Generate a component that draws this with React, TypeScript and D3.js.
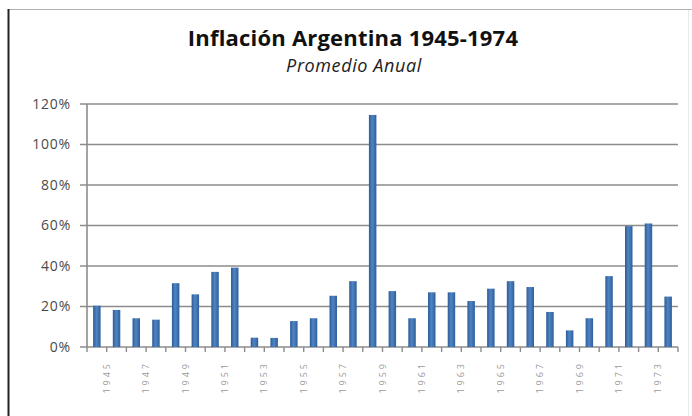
import * as d3 from 'd3'

const W = 692
const H = 416
const MARGIN = { top: 104, right: 14, bottom: 69, left: 87 }

const TITLE = 'Inflación Argentina 1945-1974'
const SUBTITLE = 'Promedio Anual'

const YEARS = [
  '1945', '1946', '1947', '1948', '1949', '1950', '1951', '1952', '1953', '1954',
  '1955', '1956', '1957', '1958', '1959', '1960', '1961', '1962', '1963', '1964',
  '1965', '1966', '1967', '1968', '1969', '1970', '1971', '1972', '1973', '1974',
]
const INFLATION = [
  0.204, 0.183, 0.142, 0.135, 0.315, 0.26, 0.371, 0.392, 0.046, 0.045,
  0.128, 0.142, 0.253, 0.325, 1.146, 0.276, 0.142, 0.27, 0.27, 0.227,
  0.288, 0.325, 0.296, 0.173, 0.082, 0.142, 0.35, 0.597, 0.61, 0.249,
]
const Y_TICKS = [0, 0.2, 0.4, 0.6, 0.8, 1.0, 1.2]

const GRID = '#8c8c8c'
const AXIS_TEXT = '#4a4a4a'
const FONT = "'Open Sans', 'Liberation Sans', sans-serif"

export default function App() {
  const x = d3
    .scaleBand<string>()
    .domain(YEARS)
    .range([MARGIN.left, W - MARGIN.right])
    .paddingInner(0.62)
    .paddingOuter(0.31)
  const y = d3.scaleLinear().domain([0, 1.2]).range([H - MARGIN.bottom, MARGIN.top])
  const step = x.step()
  const boundary = (i: number) => MARGIN.left + i * step
  const fmt = d3.format('.0%')
  const y0 = y(0)

  return (
    <svg
      width={W}
      height={H}
      style={{ position: 'absolute', left: 0, top: 0, background: '#fff' }}
    >
      <defs>
        <linearGradient id="bar" x1="0" x2="1" y1="0" y2="0">
          <stop offset="0" stopColor="#2d5c96" />
          <stop offset="0.45" stopColor="#4f84c4" />
          <stop offset="1" stopColor="#2f5f9a" />
        </linearGradient>
      </defs>

      {/* chart frame */}
      <line x1={8} x2={W} y1={9.5} y2={9.5} stroke="#b0b0b0" />
      <line x1={8.5} x2={8.5} y1={9} y2={H} stroke="#222" strokeWidth={2} />
      <line x1={688.5} x2={688.5} y1={10} y2={H} stroke="#e8e8e8" />

      <text x={353} y={46} textAnchor="middle" fontFamily={FONT} fontWeight="bold" fontSize={22} letterSpacing={0.2} fill="#111">
        {TITLE}
      </text>
      <text x={354} y={72} textAnchor="middle" fontFamily={FONT} fontStyle="italic" fontSize={18} letterSpacing={0.6} fill="#222">
        {SUBTITLE}
      </text>

      {/* gridlines + y labels */}
      {Y_TICKS.map((t) => (
        <g key={t}>
          <line x1={MARGIN.left - 7} x2={W - MARGIN.right} y1={y(t)} y2={y(t)} stroke={GRID} strokeWidth={1.6} />
          <text x={71} y={y(t)} dy="0.35em" textAnchor="end" fontFamily={FONT} fontSize={14} letterSpacing={0.8} fill={AXIS_TEXT}>
            {fmt(t)}
          </text>
        </g>
      ))}
      <line x1={MARGIN.left} x2={MARGIN.left} y1={y(1.2)} y2={y0} stroke={GRID} strokeWidth={1.6} />

      {/* bars */}
      {YEARS.map((yr, i) => (
        <rect
          key={yr}
          x={x(yr)}
          y={y(INFLATION[i])}
          width={x.bandwidth()}
          height={y0 - y(INFLATION[i])}
          fill="url(#bar)"
        />
      ))}

      {/* x axis ticks */}
      {d3.range(YEARS.length + 1).map((i) => (
        <line key={i} x1={boundary(i)} x2={boundary(i)} y1={y0} y2={y0 + 5} stroke={GRID} strokeWidth={1.4} />
      ))}

      {/* x labels, every other year */}
      {YEARS.map((yr, i) =>
        i % 2 === 0 ? (
          <text
            key={yr}
            transform={`translate(${boundary(i + 1) + 3},${y0 + 14}) rotate(-90)`}
            textAnchor="end"
            fontFamily={FONT}
            fontSize={9}
            letterSpacing={3}
            fill="#9a9a9a"
          >
            {yr}
          </text>
        ) : null
      )}
    </svg>
  )
}
